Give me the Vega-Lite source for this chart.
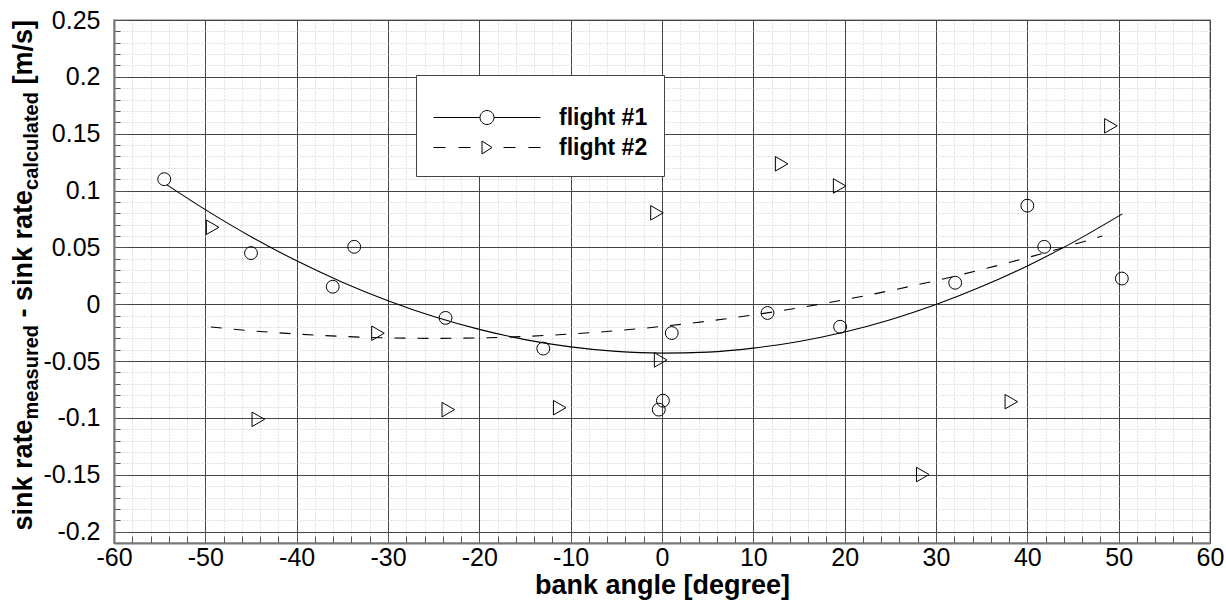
{
  "$schema": "https://vega.github.io/schema/vega-lite/v6.json",
  "width": 1096,
  "height": 523,
  "autosize": {"type": "none"},
  "padding": {"left": 114, "top": 20, "right": 16, "bottom": 60},
  "background": "white",
  "datasets": {
    "pts1": [
      {"x": -54.5, "y": 0.110}, {"x": -45.0, "y": 0.045}, {"x": -36.05, "y": 0.0154}, {"x": -33.7, "y": 0.0505},
      {"x": -23.7, "y": -0.012}, {"x": -13.0, "y": -0.039}, {"x": -0.35, "y": -0.0927}, {"x": 0.1, "y": -0.0848},
      {"x": 1.07, "y": -0.0253}, {"x": 11.55, "y": -0.0077}, {"x": 19.5, "y": -0.0198}, {"x": 32.1, "y": 0.0189},
      {"x": 40.0, "y": 0.0867}, {"x": 41.85, "y": 0.0505}, {"x": 50.35, "y": 0.0226}
    ],
    "pts2": [
      {"x": -49.2, "y": 0.0677}, {"x": -44.2, "y": -0.1012}, {"x": -31.1, "y": -0.0255}, {"x": -23.4, "y": -0.0927},
      {"x": -11.2, "y": -0.091}, {"x": -0.55, "y": 0.0804}, {"x": -0.15, "y": -0.049}, {"x": 13.1, "y": 0.1235},
      {"x": 19.45, "y": 0.104}, {"x": 28.55, "y": -0.1498}, {"x": 38.25, "y": -0.0857}, {"x": 49.15, "y": 0.1569}
    ],
    "fit1": [
      {"x": -54.2, "y": 0.105}, {"x": -50, "y": 0.0832}, {"x": -45, "y": 0.0594}, {"x": -40, "y": 0.0382},
      {"x": -35, "y": 0.0194}, {"x": -30, "y": 0.0031}, {"x": -25, "y": -0.0108}, {"x": -20, "y": -0.0221},
      {"x": -15, "y": -0.0311}, {"x": -10, "y": -0.0375}, {"x": -5, "y": -0.0415}, {"x": 0, "y": -0.043},
      {"x": 5, "y": -0.0421}, {"x": 10, "y": -0.0386}, {"x": 15, "y": -0.0327}, {"x": 20, "y": -0.0244},
      {"x": 25, "y": -0.0136}, {"x": 30, "y": -0.0003}, {"x": 35, "y": 0.0155}, {"x": 40, "y": 0.0337},
      {"x": 45, "y": 0.0544}, {"x": 50.4, "y": 0.0795}
    ],
    "fit2": [
      {"x": -49.4, "y": -0.0200}, {"x": -45, "y": -0.0233}, {"x": -40, "y": -0.0262}, {"x": -35, "y": -0.0283},
      {"x": -30, "y": -0.0296}, {"x": -25, "y": -0.0300}, {"x": -20, "y": -0.0296}, {"x": -15, "y": -0.0283},
      {"x": -10, "y": -0.0262}, {"x": -5, "y": -0.0233}, {"x": 0, "y": -0.0195}, {"x": 5, "y": -0.0149},
      {"x": 10, "y": -0.0094}, {"x": 15, "y": -0.0031}, {"x": 20, "y": 0.0040}, {"x": 25, "y": 0.0120},
      {"x": 30, "y": 0.0208}, {"x": 35, "y": 0.0305}, {"x": 40, "y": 0.0410}, {"x": 45, "y": 0.0523},
      {"x": 48.2, "y": 0.0600}
    ],
    "legendRows": [
      {"series": "flight #1"}, {"series": "flight #2"}
    ]
  },
  "resolve": {"scale": {"x": "shared", "y": "shared"}, "axis": {"x": "independent", "y": "independent"}},
  "layer": [
    {
      "data": {"name": "fit1"},
      "mark": {"type": "line", "color": "black", "strokeWidth": 1.1, "interpolate": "monotone"},
      "encoding": {
        "x": {"field": "x", "type": "quantitative", "scale": {"domain": [-60, 60], "nice": false, "zero": false},
          "axis": {"orient": "bottom", "values": [-60,-58,-56,-54,-52,-50,-48,-46,-44,-42,-40,-38,-36,-34,-32,-30,-28,-26,-24,-22,-20,-18,-16,-14,-12,-10,-8,-6,-4,-2,0,2,4,6,8,10,12,14,16,18,20,22,24,26,28,30,32,34,36,38,40,42,44,46,48,50,52,54,56,58,60],
            "labels": false, "domain": false, "title": null, "ticks": true, "tickSize": -7, "tickColor": "#555", "tickWidth": 1,
            "grid": true, "gridColor": "#c8c8c8", "gridDash": [1, 2], "gridWidth": 1}},
        "y": {"field": "y", "type": "quantitative", "scale": {"domain": [-0.21, 0.25], "nice": false, "zero": false},
          "axis": {"orient": "left", "values": [-0.2,-0.19,-0.18,-0.17,-0.16,-0.15,-0.14,-0.13,-0.12,-0.11,-0.1,-0.09,-0.08,-0.07,-0.06,-0.05,-0.04,-0.03,-0.02,-0.01,0,0.01,0.02,0.03,0.04,0.05,0.06,0.07,0.08,0.09,0.1,0.11,0.12,0.13,0.14,0.15,0.16,0.17,0.18,0.19,0.2,0.21,0.22,0.23,0.24,0.25],
            "labels": false, "domain": false, "ticks": true, "tickSize": -6, "tickColor": "#555", "tickWidth": 1,
            "grid": true, "gridColor": "#c8c8c8", "gridDash": [1, 2], "gridWidth": 1,
            "title": "measured", "titleX": -77, "titleY": 398.95, "titleAngle": -90, "titleAlign": "left", "titleBaseline": "alphabetic",
            "titleFontSize": 20, "titleFontWeight": "bold", "titleColor": "#000"}}
      }
    },
    {
      "data": {"name": "fit2"},
      "mark": {"type": "line", "color": "black", "strokeWidth": 1.1, "strokeDash": [11, 12], "interpolate": "monotone"},
      "encoding": {
        "x": {"field": "x", "type": "quantitative", "scale": {"domain": [-60, 60], "nice": false, "zero": false},
          "axis": {"orient": "bottom", "values": [-60,-50,-40,-30,-20,-10,0,10,20,30,40,50,60],
            "labelExpr": "'' + datum.value", "labelFontSize": 25, "labelColor": "#000", "labelPadding": 13,
            "labelFlush": false, "labelOverlap": false, "labelBound": false,
            "domain": true, "domainColor": "#777", "domainWidth": 2,
            "ticks": true, "tickSize": -11, "tickColor": "#555", "tickWidth": 1,
            "grid": true, "gridColor": "#444", "gridWidth": 1,
            "title": "bank angle [degree]", "titleFontSize": 27, "titleFontWeight": "bold", "titleColor": "#000",
            "titleBaseline": "alphabetic", "titleY": 50}},
        "y": {"field": "y", "type": "quantitative", "scale": {"domain": [-0.21, 0.25], "nice": false, "zero": false},
          "axis": {"orient": "left", "values": [-0.2,-0.15,-0.1,-0.05,0,0.05,0.1,0.15,0.2,0.25],
            "labelExpr": "'' + datum.value", "labelFontSize": 25, "labelColor": "#000", "labelPadding": 26,
            "labelOverlap": false, "labelBound": false, "labelFlush": false,
            "domain": true, "domainColor": "#777", "domainWidth": 2,
            "ticks": true, "tickSize": -12, "tickColor": "#555", "tickWidth": 1,
            "grid": true, "gridColor": "#444", "gridWidth": 1,
            "title": "sink rate", "titleX": -83, "titleY": 510, "titleAngle": -90, "titleAlign": "left", "titleBaseline": "alphabetic",
            "titleFontSize": 27, "titleFontWeight": "bold", "titleColor": "#000"}}
      }
    },
    {
      "data": {"name": "pts1"},
      "mark": {"type": "point", "shape": "circle", "filled": false, "color": "black", "strokeWidth": 1, "size": 165, "opacity": 1},
      "encoding": {
        "x": {"field": "x", "type": "quantitative", "scale": {"domain": [-60, 60], "nice": false, "zero": false}, "axis": null},
        "y": {"field": "y", "type": "quantitative", "scale": {"domain": [-0.21, 0.25], "nice": false, "zero": false},
          "axis": {"orient": "left", "grid": false, "ticks": false, "labels": false, "domain": false,
            "title": "- sink rate", "titleX": -83, "titleY": 296.95, "titleAngle": -90, "titleAlign": "left", "titleBaseline": "alphabetic",
            "titleFontSize": 27, "titleFontWeight": "bold", "titleColor": "#000"}}
      }
    },
    {
      "data": {"name": "pts2"},
      "mark": {"type": "point", "shape": "triangle-right", "filled": false, "color": "black", "strokeWidth": 1, "size": 210, "opacity": 1},
      "encoding": {
        "x": {"field": "x", "type": "quantitative", "scale": {"domain": [-60, 60], "nice": false, "zero": false}, "axis": null},
        "y": {"field": "y", "type": "quantitative", "scale": {"domain": [-0.21, 0.25], "nice": false, "zero": false},
          "axis": {"orient": "left", "grid": false, "ticks": false, "labels": false, "domain": false,
            "title": "calculated", "titleX": -77, "titleY": 169.4, "titleAngle": -90, "titleAlign": "left", "titleBaseline": "alphabetic",
            "titleFontSize": 20, "titleFontWeight": "bold", "titleColor": "#000"}}
      }
    },
    {
      "data": {"name": "pts1"},
      "transform": [{"filter": "datum.x < -50"}, {"lookup": "x", "from": {"data": {"name": "legendRows"}, "key": "series", "fields": ["series"]}}],
      "mark": {"type": "point", "filled": false, "color": "black", "strokeWidth": 1, "opacity": 0},
      "encoding": {
        "x": {"field": "x", "type": "quantitative", "scale": {"domain": [-60, 60], "nice": false, "zero": false}, "axis": null},
        "y": {"field": "y", "type": "quantitative", "scale": {"domain": [-0.21, 0.25], "nice": false, "zero": false},
          "axis": {"orient": "left", "grid": false, "ticks": false, "labels": false, "domain": false,
            "title": "[m/s]", "titleX": -83, "titleY": 64.1, "titleAngle": -90, "titleAlign": "left", "titleBaseline": "alphabetic",
            "titleFontSize": 27, "titleFontWeight": "bold", "titleColor": "#000"}},
        "shape": {"field": "series", "type": "nominal",
          "scale": {"domain": ["flight #1", "flight #2"],
            "range": ["M-1,0L3.65,0M5.05,0L9.7,0M5.05,0A0.7,0.7 0 1,1 3.65,0A0.7,0.7 0 1,1 5.05,0",
                      "M-1,0L0.2,0M1.5,0L2.7,0M6,0L7.2,0M8.5,0L9.7,0M3.85,-0.65L4.85,0L3.85,0.65Z"]},
          "legend": {"orient": "none", "legendX": 302, "legendY": 55, "title": "\u00a0", "titleFontSize": 11, "titlePadding": 4,
            "symbolSize": 400, "symbolStrokeWidth": 1, "symbolStrokeColor": "#000", "symbolFillColor": "transparent", "symbolOpacity": 1,
            "labelFontSize": 23, "labelFontWeight": "bold", "labelColor": "#000", "labelOffset": 104, "labelLimit": 300,
            "rowPadding": 6, "padding": 16, "strokeColor": "#444", "fillColor": "white", "values": ["flight #1", "flight #2"]}}
      }
    }
  ],
  "config": {
    "font": "Liberation Sans",
    "view": {"stroke": "#bbb", "strokeWidth": 2},
    "axis": {"labelFont": "Liberation Sans", "titleFont": "Liberation Sans"},
    "legend": {"labelFont": "Liberation Sans", "titleFont": "Liberation Sans"}
  }
}
